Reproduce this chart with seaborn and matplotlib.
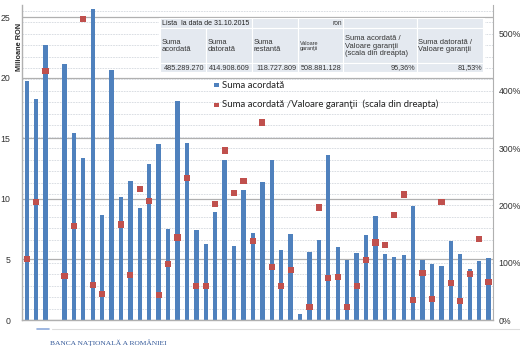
# -*- coding: utf-8 -*-
# suma acordata vs. valoare garantii - grafic BNR (reconstituire)

import matplotlib
matplotlib.use('Agg')
import matplotlib.pyplot as plt
import seaborn as sns
import numpy as np
import pandas as pd
from matplotlib.patches import Rectangle
from matplotlib.ticker import MultipleLocator, FuncFormatter

# data (milioane RON, % din valoarea garantiilor)
suma_acordata = [19.75, 18.2, 22.7, np.nan, 21.1, 15.4, 13.4, 25.7, 8.68, 20.6,
                 10.17, 11.5, 9.26, 12.9, 14.5, 7.55, 18.07, 14.6, 7.44, 6.28,
                 8.9, 13.2, 6.1, 10.7, 7.15, 11.4, 13.2, 5.79, 7.13, 0.47,
                 5.65, 6.64, 13.66, 6.06, 4.96, 5.56, 7.0, 8.57, 5.43, 5.2,
                 5.37, 9.45, 4.93, 4.6, 4.46, 6.56, 5.43, 4.24, 4.88, 5.1]
raport_garantii = [106.6, 205.9, 434.7, np.nan, 76.3, 164.3, 526.0, 61.7, 45.5, np.nan,
                   166.7, 79.2, 228.5, 208.0, 43.2, 97.4, 143.9, 248.0, 59.4, 59.4,
                   202.0, 296.0, 221.5, 242.4, 138.0, 345.0, 93.2, 60.0, 87.4, np.nan,
                   23.3, 196.4, 74.0, 74.6, 22.2, 59.4, 104.9, 135.5, 130.6, 183.0,
                   219.0, 35.0, 81.6, 36.7, 206.0, 64.0, 33.2, 80.4, 141.0, 65.9]
pozitii = list(range(len(suma_acordata)))

left_ticks = [0, 5, 10, 15, 20, 25]
right_ticks = [0, 100, 200, 300, 400, 500]

# tabel sus
tabel_titlu = 'Lista  la data de 31.10.2015'
tabel_unitate = 'ron'
tabel_capete = ['Suma\nacordată', 'Suma\ndatorată', 'Suma\nrestantă', 'Valoare\ngaranţii',
                'Suma acordată /\nValoare garanţii\n(scala din dreapta)',
                'Suma datorată /\nValoare garanţii']
tabel_valori = ['485.289.270', '414.908.609', '118.727.809', '508.881.128', '95,36%', '81,53%']

leg_bare = 'Suma acordată'
leg_puncte = 'Suma acordată /Valoare garanţii  (scala din dreapta)'

BLUE = '#4f81bd'
RED = '#c0504d'
GRID = '#b0b0b0'

W, H = 520, 357


def fx(px):
    return px / W


def fy(py):
    return 1 - py / H


sns.set_style('white')
plt.rcParams['font.family'] = ['Liberation Sans', 'DejaVu Sans']

fig = plt.figure(figsize=(5.2, 3.57), dpi=100)
rect = [fx(21.7), fy(320), fx(493) - fx(21.7), fy(5) - fy(320)]
ax = fig.add_axes(rect, zorder=1)
# a doua axa, aceeasi pozitie, desenata deasupra
ax2 = fig.add_axes(rect, sharex=ax, zorder=2)
ax2.patch.set_visible(False)

df = pd.DataFrame({'poz': pozitii, 'suma': suma_acordata, 'raport': raport_garantii})

# bare
sns.barplot(data=df, x='poz', y='suma', order=pozitii, color=BLUE, saturation=1,
            width=0.46, errorbar=None, linewidth=0, ax=ax)
ax.set_ylim(0, 26)
ax.set_yticks(left_ticks)
ax.yaxis.set_minor_locator(MultipleLocator(26 / 27.5))
ax.grid(which='major', axis='y', color=GRID, lw=0.9)
ax.grid(which='minor', axis='y', color='#d3d8de', lw=0.6, ls=(0, (2, 1.2)))
ax.grid(which='major', axis='x', visible=False)
ax.set_axisbelow(True)
ax.set_xlabel('')
ax.set_ylabel('')
ax.tick_params(axis='y', which='both', length=0, pad=8, labelsize=6.3, labelcolor='#333333')
for s in ['top', 'right']:
    ax.spines[s].set_visible(False)
for s in ['left', 'bottom']:
    ax.spines[s].set_color(GRID)
    ax.spines[s].set_linewidth(1)

# puncte pe scala din dreapta
sns.scatterplot(data=df, x='poz', y='raport', marker='s', color=RED, s=20,
                edgecolor='none', linewidth=0, ax=ax2, legend=False)
ax2.set_ylim(0, 550)
ax2.set_yticks(right_ticks)
ax2.yaxis.tick_right()
ax2.yaxis.set_major_formatter(FuncFormatter(lambda v, p: '%d%%' % v))
ax2.tick_params(axis='y', length=0, pad=4, labelsize=6.3, labelcolor='#333333')
ax2.tick_params(axis='x', length=0, labelbottom=False)
ax2.set_ylabel('')
ax2.set_xlabel('')
ax2.grid(False)
for s in ['top', 'left', 'bottom']:
    ax2.spines[s].set_visible(False)
ax2.spines['right'].set_color(GRID)
ax.set_xlim(-0.53, 49.47)
ax.set_xticks([])

fig.text(fx(19.5), fy(47), 'Milioane RON', rotation=90, fontsize=5.3,
         fontweight='bold', ha='center', va='center')

# tabel
col = [160, 205.7, 251.7, 298.3, 343.3, 416.7, 483.3]
row = [18.3, 28.3, 63.3, 72.3]
CELL = '#e4e9f0'


def celula(x0, x1, y0, y1):
    fig.add_artist(Rectangle((fx(x0), fy(y1)), fx(x1) - fx(x0), fy(y0) - fy(y1),
                             transform=fig.transFigure, facecolor=CELL,
                             edgecolor='white', lw=0.8, zorder=5))


fig.add_artist(Rectangle((fx(159), fy(73)), fx(484.5) - fx(159), fy(17.5) - fy(73),
                         transform=fig.transFigure, facecolor='white',
                         edgecolor='none', zorder=4))
# rand 1
for x0, x1 in [(col[0], col[2]), (col[2], col[3]), (col[3], col[4]),
               (col[4], col[5]), (col[5], col[6])]:
    celula(x0, x1, row[0], row[1])
fig.text(fx(161.5), fy(23.5), tabel_titlu, fontsize=5.0,
         color='#222222', ha='left', va='center', zorder=6)
fig.text(fx(342), fy(23.5), tabel_unitate, fontsize=4.7, color='#333333',
         ha='right', va='center', zorder=6)
# randurile 2-3
for i in range(6):
    celula(col[i], col[i + 1], row[1], row[2])
    celula(col[i], col[i + 1], row[2], row[3])
    fs = 4.0 if i == 3 else 5.4
    fig.text(fx(col[i] + 1.8), fy(46), tabel_capete[i], fontsize=fs, color='#333333',
             ha='left', va='center', linespacing=1.15, zorder=6)
    fig.text(fx(col[i + 1] - 1.5), fy(68), tabel_valori[i], fontsize=5.2,
             color='#333333', ha='right', va='center', zorder=6)

# legenda
for yy, cc, tt in [(85, BLUE, leg_bare), (104.7, RED, leg_puncte)]:
    fig.add_artist(Rectangle((fx(214.3), fy(yy + 2.2)), fx(4.4), fy(0) - fy(4.4),
                             transform=fig.transFigure, facecolor=cc,
                             edgecolor='none', zorder=6))
    fig.text(fx(222), fy(yy), tt, fontsize=6.9, family=['Lato', 'DejaVu Sans'],
             color='#222222', ha='left', va='center', zorder=6)

# linii jos
fig.add_artist(plt.Line2D([fx(52), fx(520)], [fy(329), fy(329)], color='#dddddd', lw=0.8))
fig.add_artist(plt.Line2D([fx(37), fx(49)], [fy(329), fy(329)], color='#8eaadb', lw=1.2))

# sigla
fig.text(fx(50), fy(343), 'BANCA NAŢIONALĂ A ROMÂNIEI', fontsize=5.4,
         family=['Liberation Serif', 'DejaVu Serif'], color='#2f5597', ha='left', va='center')

fig.savefig('out.png', dpi=100)
